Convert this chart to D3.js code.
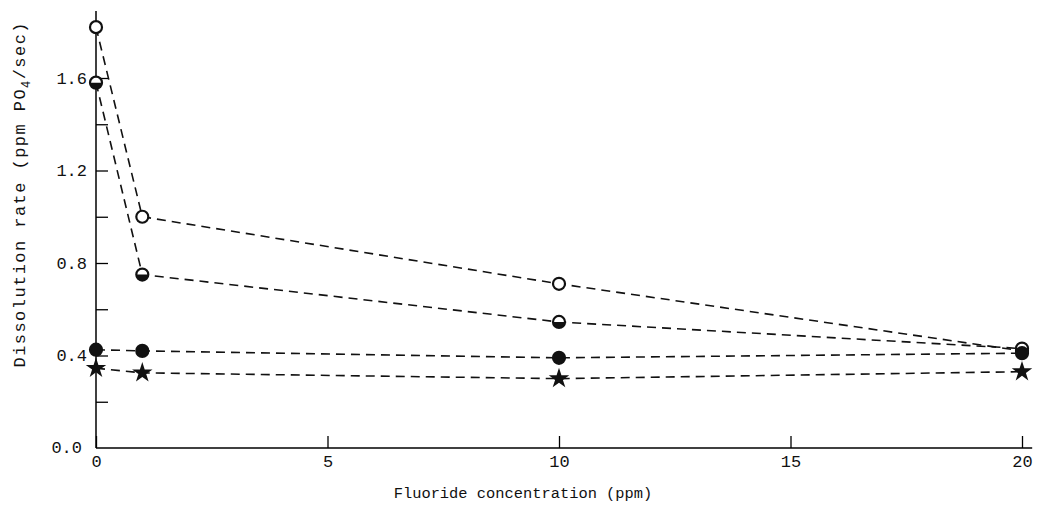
<!DOCTYPE html>
<html>
<head>
<meta charset="utf-8">
<script src="https://cdn.jsdelivr.net/npm/d3@7"></script>
<style>
  body { margin: 0; background: #fff; }
  svg { display: block; font-family: "Liberation Mono", "DejaVu Sans Mono", monospace; }
</style>
</head>
<body>
<div id="chart"></div>
<script>
// fluoride concentration (ppm)
var fluoride = [0, 1, 10, 20];
// dissolution rate (ppm PO4/sec), one list per series
var openCircle = [1.82, 1.00, 0.71, 0.42];
var halfCircle = [1.58, 0.75, 0.545, 0.43];
var filledCircle = [0.425, 0.42, 0.39, 0.41];
var stars = [0.345, 0.325, 0.30, 0.33];

var xTicks = [0, 5, 10, 15, 20];
var yTicks = [0.2, 0.4, 0.6, 0.8, 1.0, 1.2, 1.4, 1.6];
var yLabels = ["0.0", "0.4", "0.8", "1.2", "1.6"];

var series = [
  { name: "open", values: openCircle },
  { name: "half", values: halfCircle },
  { name: "filled", values: filledCircle },
  { name: "star", values: stars }
];

var W = 1042, H = 508;
var FONT = '"Liberation Mono", "DejaVu Sans Mono", monospace';
var svg = d3.select("#chart").append("svg")
  .attr("width", W)
  .attr("height", H);

var x = d3.scaleLinear().domain([0, 20]).range([96, 1022]);
var y = d3.scaleLinear().domain([0, 1.6]).range([448, 78]);

// axes
var yAxis = d3.axisLeft(y)
  .tickValues(yTicks)
  .tickSize(-12)
  .tickPadding(9)
  .tickFormat(function (d) {
    var s = d3.format(".1f")(d);
    return yLabels.indexOf(s) >= 0 ? s : "";
  });

var gy = svg.append("g").attr("transform", "translate(" + x(0) + ",0)").call(yAxis);
gy.attr("font-family", FONT).attr("font-size", 17);
gy.select(".domain").remove();
gy.selectAll(".tick line").attr("stroke", "#000").attr("stroke-width", 1.3);
gy.selectAll("text").attr("fill", "#111");

// zero label
svg.append("text")
  .attr("x", x(0) - 14)
  .attr("y", y(0))
  .attr("dy", "0.32em")
  .attr("text-anchor", "end")
  .attr("font-size", 17)
  .attr("fill", "#111")
  .text(yLabels[0]);

var xAxis = d3.axisBottom(x)
  .tickValues(xTicks)
  .tickSize(-12)
  .tickPadding(7)
  .tickFormat(d3.format("d"));

var gx = svg.append("g").attr("transform", "translate(0," + y(0) + ")").call(xAxis);
gx.attr("font-family", FONT).attr("font-size", 17);
gx.select(".domain").remove();
gx.selectAll(".tick line").attr("stroke", "#000").attr("stroke-width", 1.3);
gx.selectAll("text").attr("fill", "#111");

// axis lines
svg.append("line")
  .attr("x1", x(0)).attr("x2", x(0))
  .attr("y1", y(0)).attr("y2", y(1.89))
  .attr("stroke", "#000").attr("stroke-width", 1.5);
svg.append("line")
  .attr("x1", x(0)).attr("x2", x(20.22))
  .attr("y1", y(0)).attr("y2", y(0))
  .attr("stroke", "#000").attr("stroke-width", 1.5);

// axis titles
svg.append("text")
  .attr("x", x(0) + 427)
  .attr("y", y(0) + 50)
  .attr("text-anchor", "middle")
  .attr("font-size", 15.4)
  .attr("fill", "#111")
  .text("Fluoride concentration (ppm)");

var yt = svg.append("text")
  .attr("transform", "translate(25," + 195 + ") rotate(-90)")
  .attr("text-anchor", "middle")
  .attr("font-size", 17)
  .attr("fill", "#111")
  .attr("textLength", 345)
  .attr("lengthAdjust", "spacing");
yt.append("tspan").text("Dissolution rate (ppm PO");
yt.append("tspan").attr("font-size", 12).attr("dy", 5).text("4");
yt.append("tspan").attr("dy", -5).text("/sec)");

// dashed lines
var line = d3.line()
  .x(function (d, i) { return x(fluoride[i]); })
  .y(function (d) { return y(d); });

svg.append("g").selectAll("path")
  .data(series)
  .enter().append("path")
  .attr("d", function (s) { return line(s.values); })
  .attr("fill", "none")
  .attr("stroke", "#111")
  .attr("stroke-width", 1.6)
  .attr("stroke-dasharray", "9,6");

// markers
var r = 6;
var star = d3.symbol().type(d3.symbolStar).size(130);

series.forEach(function (s) {
  var g = svg.append("g");
  var pts = g.selectAll("g")
    .data(s.values)
    .enter().append("g")
    .attr("transform", function (d, i) { return "translate(" + x(fluoride[i]) + "," + y(d) + ")"; });

  if (s.name === "star") {
    pts.append("path").attr("d", star).attr("fill", "#111");
    return;
  }
  pts.append("circle")
    .attr("r", r)
    .attr("fill", s.name === "filled" ? "#111" : "#fff")
    .attr("stroke", "#111")
    .attr("stroke-width", 2.2);
  if (s.name === "half") {
    pts.append("path")
      .attr("d", "M" + (-r) + ",0 A" + r + "," + r + " 0 0 0 " + r + ",0 Z")
      .attr("fill", "#111");
  }
});
</script>
</body>
</html>
